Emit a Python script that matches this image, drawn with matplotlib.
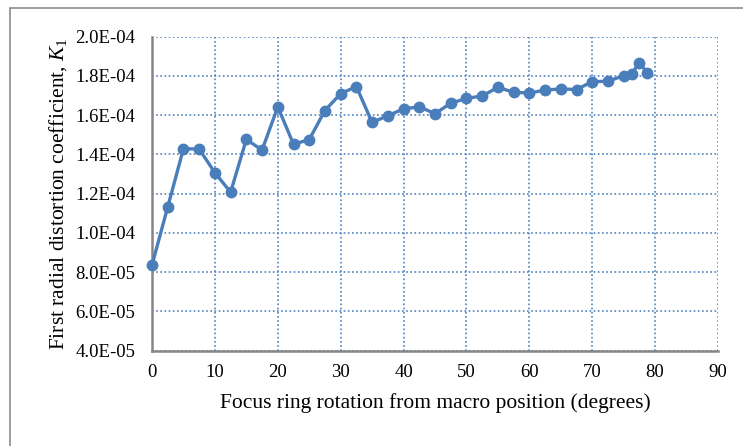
import matplotlib
matplotlib.use('Agg')
import matplotlib.pyplot as plt
from matplotlib.patches import Rectangle
from matplotlib.ticker import FuncFormatter, MultipleLocator

plt.rcParams['font.family'] = ['Liberation Serif', 'DejaVu Serif']
plt.rcParams['mathtext.fontset'] = 'custom'
plt.rcParams['mathtext.rm'] = 'Liberation Serif'
plt.rcParams['mathtext.it'] = 'Liberation Serif:italic'

# focus ring rotation (degrees) and K1
rotation = [0, 2.5, 5, 7.5, 10, 12.5, 15, 17.5, 20, 22.5, 25, 27.5, 30, 32.5,
            35, 37.5, 40, 42.5, 45, 47.5, 50, 52.5, 55, 57.5, 60, 62.5, 65,
            67.5, 70, 72.5, 75, 76.25, 77.5, 78.75]
k1 = [8.35e-5, 1.132e-4, 1.428e-4, 1.427e-4, 1.306e-4, 1.207e-4, 1.476e-4,
      1.421e-4, 1.642e-4, 1.451e-4, 1.475e-4, 1.623e-4, 1.709e-4, 1.745e-4,
      1.562e-4, 1.597e-4, 1.631e-4, 1.642e-4, 1.607e-4, 1.660e-4, 1.685e-4,
      1.697e-4, 1.741e-4, 1.716e-4, 1.712e-4, 1.727e-4, 1.733e-4, 1.730e-4,
      1.770e-4, 1.772e-4, 1.801e-4, 1.808e-4, 1.867e-4, 1.814e-4]

xlabel = 'Focus ring rotation from macro position (degrees)'
ylabel = r'First radial distortion coefficient, $\mathit{K_1}$'

W, H = 743, 446
fig = plt.figure(figsize=(W / 100, H / 100), dpi=100)
ax = fig.add_axes([152 / W, 1 - 350.6 / H, (718 - 152) / W, (350.6 - 36.5) / H])

# outer chart border (runs off the right and bottom edges)
fig.patches.append(Rectangle((10 / W, -0.1), 1.2, 1 - 8 / H + 0.1,
                             transform=fig.transFigure, fill=False,
                             edgecolor='#8c8c8c', linewidth=1.2))

blue = '#4a7ebb'
ax.plot(rotation, k1, color=blue, linewidth=2.4, marker='o',
        markersize=7.5, zorder=3, clip_on=False)

ax.set_xlim(0, 90)
ax.set_ylim(4e-5, 2e-4)
ax.xaxis.set_major_locator(MultipleLocator(10))
ax.yaxis.set_major_locator(MultipleLocator(2e-5))
ax.yaxis.set_major_formatter(FuncFormatter(lambda v, p: f'{v:.1E}'))
ax.grid(True, color='#4f81bd', linestyle=(0, (1, 1.5)), linewidth=1.2)
ax.set_axisbelow(True)

for s in ['top', 'right']:
    ax.spines[s].set_visible(False)
for s in ['left', 'bottom']:
    ax.spines[s].set_color('#868686')
    ax.spines[s].set_linewidth(1.8)
ax.tick_params(axis='y', length=0, labelsize=13.5, pad=12)
ax.tick_params(axis='x', length=0, labelsize=13.5, pad=10)

ax.set_xlabel(xlabel, fontsize=15.5)
ax.set_ylabel(ylabel, fontsize=15.5)
ax.xaxis.set_label_coords(0.5, -0.135)
ax.yaxis.set_label_coords(-0.147, 0.5)

fig.savefig('out.png', dpi=100)
